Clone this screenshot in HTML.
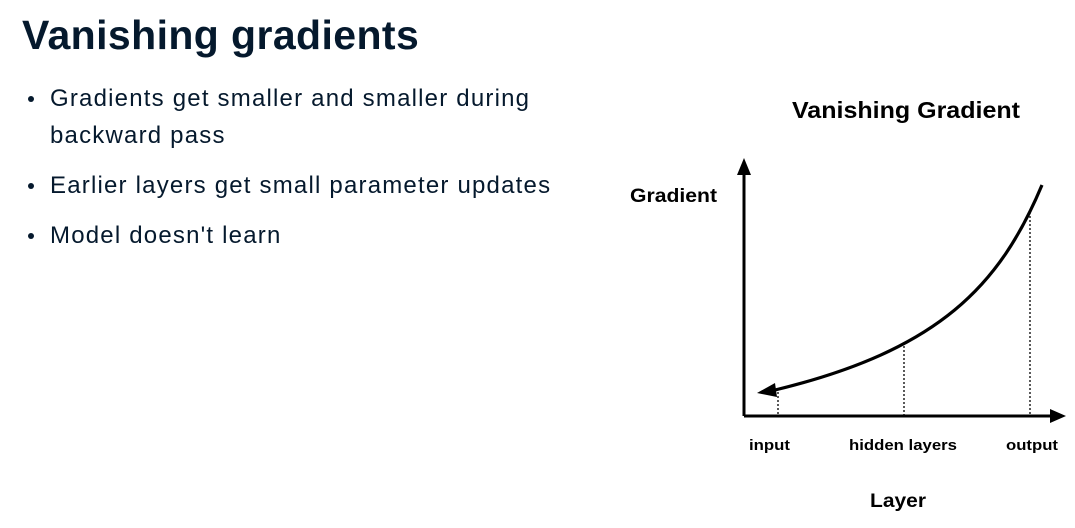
<!DOCTYPE html>
<html><head><meta charset="utf-8"><style>
body{margin:0;width:1075px;height:528px;background:#fff;overflow:hidden;position:relative;font-family:"Liberation Sans",sans-serif;color:#05192d}
.t{position:absolute;left:22px;top:12px;font-size:41px;font-weight:bold;letter-spacing:0.4px}
ul{position:absolute;left:24px;top:80px;margin:0;padding:0;list-style:none;font-size:24px;letter-spacing:1.2px}
li{position:relative;padding-left:26px;line-height:37px;margin-bottom:13px;white-space:nowrap}
li:before{content:"";position:absolute;left:4px;top:16px;width:6px;height:6px;border-radius:50%;background:#05192d}
</style></head><body>
<div class="t">Vanishing gradients</div>
<ul>
<li>Gradients get smaller and smaller during<br>backward pass</li>
<li>Earlier layers get small parameter updates</li>
<li>Model doesn't learn</li>
</ul>
<svg width="1075" height="528" style="position:absolute;left:0;top:0" font-family="Liberation Sans, sans-serif" font-weight="bold">
<text x="792" y="118" font-size="23" textLength="228" lengthAdjust="spacingAndGlyphs">Vanishing Gradient</text>
<text x="630" y="202" font-size="19" textLength="87" lengthAdjust="spacingAndGlyphs">Gradient</text>
<text x="749" y="450" font-size="15" textLength="41" lengthAdjust="spacingAndGlyphs">input</text>
<text x="849" y="450" font-size="15" textLength="108" lengthAdjust="spacingAndGlyphs">hidden layers</text>
<text x="1006" y="450" font-size="15" textLength="52" lengthAdjust="spacingAndGlyphs">output</text>
<text x="870" y="507" font-size="19" textLength="56" lengthAdjust="spacingAndGlyphs">Layer</text>
<g stroke="#000" fill="none">
<line x1="744" y1="416" x2="744" y2="172" stroke-width="3"/>
<line x1="744" y1="416" x2="1054" y2="416" stroke-width="3"/>
<g stroke-width="1.3" stroke-dasharray="2,2">
<line x1="778" y1="392" x2="778" y2="416"/>
<line x1="904" y1="346" x2="904" y2="416"/>
<line x1="1030" y1="212" x2="1030" y2="416"/>
</g>
<path d="M1042,185 C1000,285 940,350 775,390" stroke-width="3.2"/>
</g>
<polygon points="744,158 737,175 751,175" fill="#000"/>
<polygon points="1066,416 1050,409 1050,423" fill="#000"/>
<polygon points="757,393 775,383 777,397" fill="#000"/>
</svg>
</body></html>
